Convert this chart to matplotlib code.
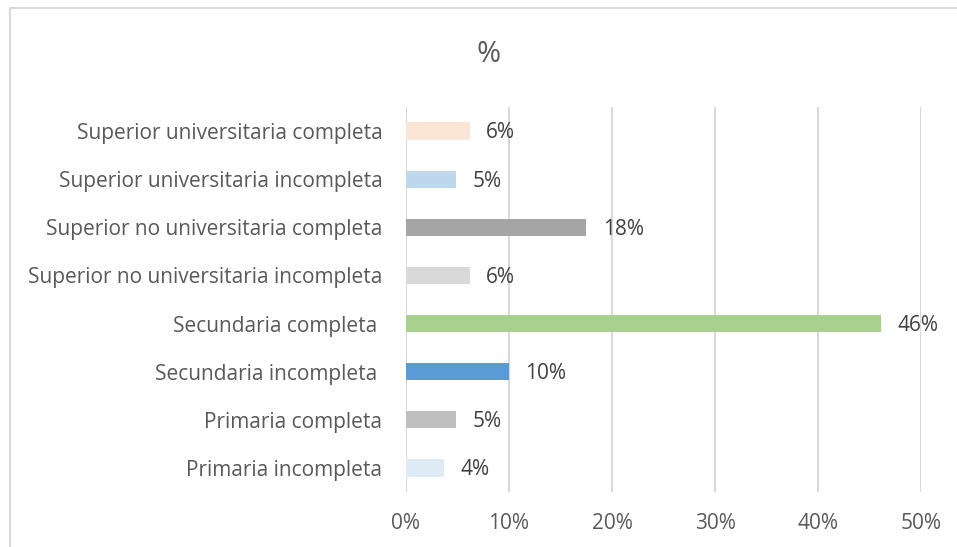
import matplotlib.pyplot as plt
from matplotlib.patches import Rectangle
from matplotlib.ticker import PercentFormatter

plt.rcParams['font.family'] = ['Open Sans', 'DejaVu Sans']

categories = ["Primaria incompleta", "Primaria completa", "Secundaria incompleta ",
              "Secundaria completa ", "Superior no universitaria incompleta",
              "Superior no universitaria completa", "Superior universitaria incompleta",
              "Superior universitaria completa"]
values = [0.037, 0.049, 0.100, 0.461, 0.062, 0.175, 0.049, 0.062]
labels = ["4%", "5%", "10%", "46%", "6%", "18%", "5%", "6%"]
colors = ["#DEEBF7", "#BFBFBF", "#5B9BD5", "#A9D18E", "#D9D9D9", "#A5A5A5", "#BDD7EE", "#FBE5D6"]

W, H = 957, 547
fig = plt.figure(figsize=(W / 100, H / 100), dpi=100)
ax = fig.add_axes([406 / W, (H - 492) / H, (921 - 406) / W, (492 - 107) / H])

y = range(len(categories))
ax.barh(y, values, height=0.36, color=colors, zorder=3)
for yi, v, lab in zip(y, values, labels):
    ax.text(v + 0.016, yi - 0.04, lab, va='center', ha='left', fontsize=15, color='#404040')

ax.set_xlim(0, 0.5)
ax.set_ylim(-0.5, 7.5)
ax.set_xticks([0, 0.1, 0.2, 0.3, 0.4, 0.5])
ax.xaxis.set_major_formatter(PercentFormatter(1.0, decimals=0))
ax.set_yticks(list(y))
ax.set_yticklabels(categories)
ax.tick_params(axis='both', length=0, labelsize=15, labelcolor='#595959')
ax.tick_params(axis='y', pad=17)
ax.tick_params(axis='x', pad=15)
ax.grid(axis='x', color='#D9D9D9', linewidth=1.5, zorder=0)
for s in ax.spines.values():
    s.set_visible(False)

fig.text(489 / W, 1 - 54 / H, "%", ha='center', va='center', fontsize=21, color='#595959')
fig.patches.append(Rectangle((10 / W, -0.1), 1.2, 1.1 - 8 / H, transform=fig.transFigure,
                             fill=False, edgecolor='#D9D9D9', linewidth=1.5))

fig.savefig("out.png", dpi=100)
